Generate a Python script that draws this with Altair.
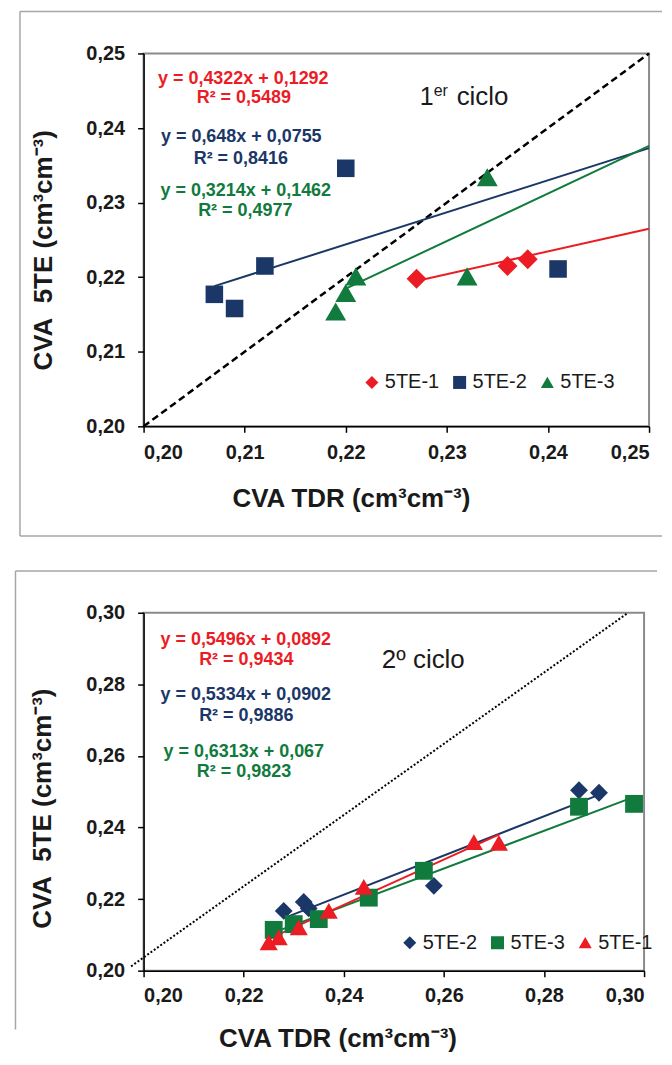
import altair as alt
import pandas as pd

RED = "#EC1C24"
NAVY = "#1B3767"
GREEN = "#117A3D"
FONT = "Liberation Sans"
TXT = "#1a1a1a"

# ---------------- 1er ciclo (top) ----------------
top_series = ["5TE-1", "5TE-2", "5TE-3"]
top_x = {
    "5TE-1": [0.227, 0.236, 0.238],
    "5TE-2": [0.207, 0.209, 0.212, 0.220, 0.241],
    "5TE-3": [0.219, 0.220, 0.221, 0.232, 0.234],
}
top_y = {
    "5TE-1": [0.2198, 0.2215, 0.2224],
    "5TE-2": [0.2177, 0.2158, 0.2215, 0.2346, 0.2211],
    "5TE-3": [0.2154, 0.2179, 0.2201, 0.2201, 0.2334],
}
# trend lines as drawn (start/end)
top_fit_x = {"5TE-1": [0.227, 0.25], "5TE-2": [0.207, 0.25], "5TE-3": [0.2199, 0.25]}
top_fit_y = {"5TE-1": [0.2195, 0.2265], "5TE-2": [0.2188, 0.2373], "5TE-3": [0.2184, 0.2376]}
top_ref_x = [0.20, 0.25]
top_ref_y = [0.20, 0.25]
top_eq = ["y = 0,4322x + 0,1292", "R² = 0,5489",
          "y = 0,648x + 0,0755", "R² = 0,8416",
          "y = 0,3214x + 0,1462", "R² = 0,4977"]
top_ticks = [0.20, 0.21, 0.22, 0.23, 0.24, 0.25]

# ---------------- 2º ciclo (bottom) ----------------
bot_series = ["5TE-2", "5TE-3", "5TE-1"]
bot_x = {
    "5TE-2": [0.228, 0.232, 0.233, 0.258, 0.287, 0.291],
    "5TE-3": [0.226, 0.230, 0.235, 0.245, 0.256, 0.287, 0.298],
    "5TE-1": [0.225, 0.227, 0.231, 0.237, 0.244, 0.266, 0.271],
}
bot_y = {
    "5TE-2": [0.2167, 0.2192, 0.2174, 0.2237, 0.2504, 0.2497],
    "5TE-3": [0.2114, 0.2130, 0.2144, 0.2204, 0.2279, 0.2458, 0.2466],
    "5TE-1": [0.2079, 0.2093, 0.2121, 0.2167, 0.2234, 0.2359, 0.2357],
}
bot_fit_x = {"5TE-2": [0.2283, 0.2902], "5TE-3": [0.2261, 0.2983], "5TE-1": [0.2249, 0.2711]}
bot_fit_y = {"5TE-2": [0.2148, 0.2487], "5TE-3": [0.2107, 0.2487], "5TE-1": [0.2088, 0.2381]}
bot_ref_x = [0.1975, 0.2965]
bot_ref_y = [0.2012, 0.2997]
bot_eq = ["y = 0,5496x + 0,0892", "R² = 0,9434",
          "y = 0,5334x + 0,0902", "R² = 0,9886",
          "y = 0,6313x + 0,067", "R² = 0,9823"]
bot_ticks = [0.20, 0.22, 0.24, 0.26, 0.28, 0.30]

LABEL_EXPR = "replace(format(datum.value, '.2f'), '.', ',')"
ONE = alt.Data(values=[{"k": 0}])


def make_axis(ticks, title, tx, ty, label_pad, angle=None):
    kw = dict(
        values=ticks, labelExpr=LABEL_EXPR, labelFont=FONT, labelFontWeight="bold",
        labelFontSize=20, labelColor=TXT, labelPadding=label_pad, tickSize=6,
        tickColor="black", tickWidth=1.5, domainColor="black", domainWidth=1.5,
        grid=False, title=title, titleFont=FONT, titleFontWeight="bold",
        titleFontSize=26, titleColor=TXT, titleX=tx, titleY=ty,
        titleAlign="center", titleBaseline="middle",
    )
    if angle is not None:
        kw["titleAngle"] = angle
    return alt.Axis(**kw)


def text(txt, x, y, color, size, weight="bold", align="center", baseline="middle"):
    return alt.Chart(ONE).mark_text(
        text=txt, font=FONT, fontSize=size, fontWeight=weight, color=color,
        align=align, baseline=baseline,
    ).encode(x=alt.value(x), y=alt.value(y))


def rule(x, y, x2=None, y2=None):
    enc = dict(x=alt.value(x), y=alt.value(y))
    if x2 is not None:
        enc["x2"] = alt.value(x2)
    if y2 is not None:
        enc["y2"] = alt.value(y2)
    return alt.Chart(ONE).mark_rule(color="#a6a6a6", strokeWidth=1.5).encode(**enc)


def panel(series, colors, shapes, sizes, xs, ys, fit_x, fit_y, ref_x, ref_y,
          ref_dash, ref_w, domain, xaxis, yaxis, legend):
    sx = alt.Scale(domain=domain, nice=False, zero=False)
    sy = alt.Scale(domain=domain, nice=False, zero=False)
    layers = []
    ref = pd.DataFrame({"x": ref_x, "y": ref_y})
    layers.append(alt.Chart(ref).mark_line(color="black", strokeWidth=ref_w, strokeDash=ref_dash, clip=False)
                  .encode(x=alt.X("x:Q", scale=sx, axis=xaxis), y=alt.Y("y:Q", scale=sy, axis=yaxis)))
    for s, c in zip(series, colors):
        d = pd.DataFrame({"x": fit_x[s], "y": fit_y[s]})
        layers.append(alt.Chart(d).mark_line(color=c, strokeWidth=2)
                      .encode(x="x:Q", y="y:Q"))
    for s, sz in zip(series, sizes):
        d = pd.DataFrame({"x": xs[s], "y": ys[s], "series": s})
        layers.append(alt.Chart(d).mark_point(filled=True, opacity=1, size=sz)
                      .encode(x="x:Q", y="y:Q",
                              color=alt.Color("series:N", scale=alt.Scale(domain=series, range=colors), legend=legend),
                              shape=alt.Shape("series:N", scale=alt.Scale(domain=series, range=shapes), legend=legend)))
    return layers


# ---------- top panel ----------
W1, H1 = 507, 374
leg1 = alt.Legend(orient="none", legendX=219, legendY=320, direction="horizontal", title=None,
                  labelFont=FONT, labelFontSize=20, labelColor=TXT, symbolSize=170,
                  labelOffset=3, columnPadding=10, padding=0, symbolStrokeWidth=0)
top_layers = panel(top_series, [RED, NAVY, GREEN], ["diamond", "square", "triangle-up"],
                   [400, 310, 440], top_x, top_y, top_fit_x, top_fit_y, top_ref_x, top_ref_y,
                   [7, 4], 2.5, [0.20, 0.25],
                   make_axis(top_ticks, "CVA TDR (cm³cm⁻³)", 208, 72, 10),
                   make_axis(top_ticks, "CVA\u00a0\u00a05TE (cm³cm⁻³)", -100, 197, 13, 270),
                   leg1)
top_layers += [
    rule(-124, -42, y2=484), rule(-124, -42, x2=520), rule(-124, 484, x2=520),
    text(top_eq[0], 100, 26, RED, 18), text(top_eq[1], 100.5, 45, RED, 18),
    text(top_eq[2], 98, 84, NAVY, 18), text(top_eq[3], 97.5, 105.5, NAVY, 18),
    text(top_eq[4], 102.5, 137.5, GREEN, 18), text(top_eq[5], 102, 158.5, GREEN, 18),
    text("1", 277, 52, TXT, 25, "normal", "left", "alphabetic"),
    text("er", 291, 43, TXT, 16, "normal", "left", "alphabetic"),
    text("ciclo", 314, 52, TXT, 26, "normal", "left", "alphabetic"),
]
top = alt.layer(*top_layers).properties(width=W1, height=H1)

# ---------- bottom panel ----------
W2, H2 = 502, 359
leg2 = alt.Legend(orient="none", legendX=257, legendY=321, direction="horizontal", title=None,
                  labelFont=FONT, labelFontSize=20, labelColor=TXT, symbolSize=170,
                  labelOffset=3, columnPadding=10, padding=0, symbolStrokeWidth=0)
bot_layers = panel(bot_series, [NAVY, GREEN, RED], ["diamond", "square", "triangle-up"],
                   [320, 320, 330], bot_x, bot_y, bot_fit_x, bot_fit_y, bot_ref_x, bot_ref_y,
                   [2, 2], 2, [0.20, 0.30],
                   make_axis(bot_ticks, "CVA TDR (cm³cm⁻³)", 194.5, 68, 9),
                   make_axis(bot_ticks, "CVA\u00a0\u00a05TE (cm³cm⁻³)", -101, 196, 13, 270),
                   leg2)
bot_layers += [
    rule(-128.5, -42, y2=418), rule(-128.5, -42, x2=515),
    text(bot_eq[0], 102.5, 27, RED, 18), text(bot_eq[1], 103, 47.7, RED, 18),
    text(bot_eq[2], 102.5, 82.7, NAVY, 18), text(bot_eq[3], 103, 103.7, NAVY, 18),
    text(bot_eq[4], 100.5, 139.3, GREEN, 18), text(bot_eq[5], 100.7, 160, GREEN, 18),
    text("2º ciclo", 239, 55, TXT, 26, "normal", "left", "alphabetic"),
]
bot = alt.layer(*bot_layers).properties(width=W2, height=H2)

chart = (
    alt.vconcat(top, bot, spacing=31)
    .resolve_scale(color="independent", shape="independent", x="independent", y="independent")
    .resolve_legend(color="independent", shape="independent")
    .properties(padding={"left": 5, "top": 0, "right": 0, "bottom": 0}, background="white")
    .configure_view(stroke="#8a8a8a", strokeWidth=2)
)

chart.save("out.html", embed_options={"renderer": "svg", "actions": False})
